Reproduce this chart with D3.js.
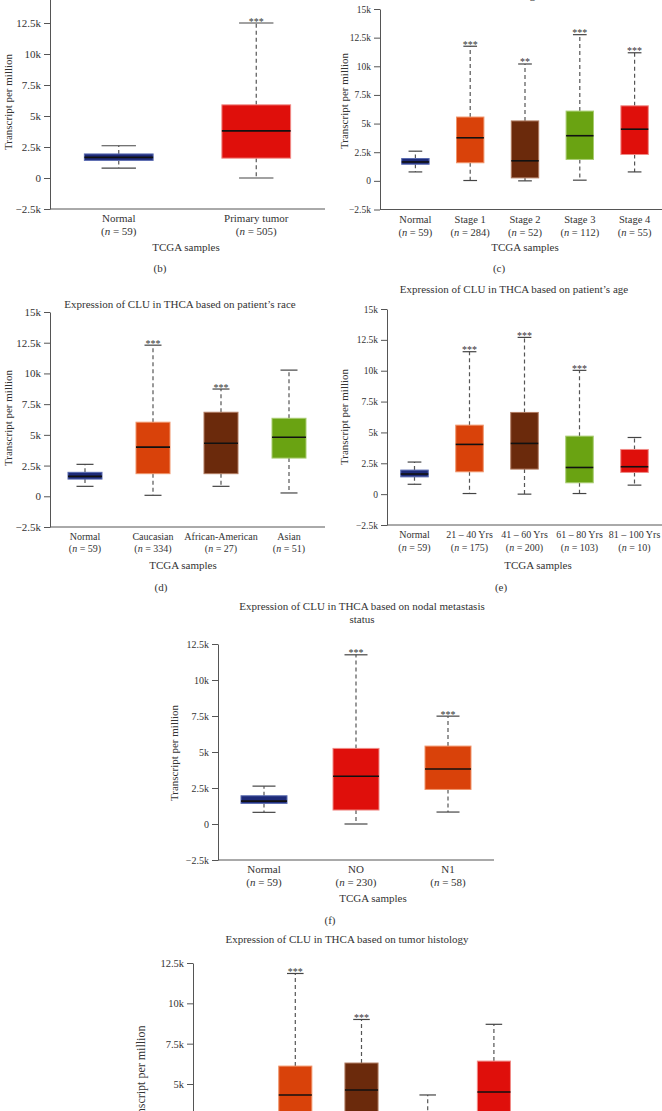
<!DOCTYPE html>
<html><head><meta charset="utf-8">
<script src="https://cdn.jsdelivr.net/npm/d3@7"></script>
<style>
body{margin:0;background:#fff}
svg{display:block}
text{font-family:"Liberation Serif","Times New Roman",serif;fill:#333}
</style>
</head><body>
<svg id="fig" width="662" height="1111"></svg>
<script>
// ---------- DATA ----------
const tickValues15 = [-2500, 0, 2500, 5000, 7500, 10000, 12500, 15000];
const tickValues125 = [-2500, 0, 2500, 5000, 7500, 10000, 12500];

// (b) sample types   stats = [low whisker, Q1, median, Q3, high whisker]
const sampleCats = ["Normal", "Primary tumor"];
const sampleN = [59, 505];
const sampleStats = [[800, 1420, 1660, 1940, 2600], [0, 1600, 3800, 5900, 12500]];
const sampleSig = ["", "***"];

// (c) cancer stages
const stageCats = ["Normal", "Stage 1", "Stage 2", "Stage 3", "Stage 4"];
const stageN = [59, 284, 52, 112, 55];
const stageStats = [[780, 1450, 1650, 1950, 2590], [30, 1580, 3760, 5570, 11750], [0, 260, 1750, 5230, 10200], [60, 1870, 3940, 6090, 12760], [780, 2300, 4510, 6550, 11180]];
const stageSig = ["", "***", "**", "***", "***"];

// (d) race
const raceCats = ["Normal", "Caucasian", "African-American", "Asian"];
const raceN = [59, 334, 27, 51];
const raceStats = [[810, 1400, 1620, 1950, 2600], [80, 1840, 4000, 6030, 12300], [810, 1840, 4320, 6840, 8730], [270, 3110, 4810, 6350, 10270]];
const raceSig = ["", "***", "***", ""];

// (e) age
const ageCats = ["Normal", "21 – 40 Yrs", "41 – 60 Yrs", "61 – 80 Yrs", "81 – 100 Yrs"];
const ageN = [59, 175, 200, 103, 10];
const ageStats = [[800, 1400, 1630, 1950, 2600], [50, 1810, 4030, 5590, 11540], [0, 2030, 4110, 6620, 12700], [50, 920, 2160, 4700, 10030], [730, 1760, 2220, 3620, 4590]];
const ageSig = ["", "***", "***", "***", ""];

// (f) nodal metastasis
const nodalCats = ["Normal", "NO", "N1"];
const nodalN = [59, 230, 58];
const nodalStats = [[810, 1430, 1590, 1960, 2630], [0, 970, 3320, 5250, 11750], [830, 2400, 3820, 5410, 7490]];
const nodalSig = ["", "***", "***"];

// (g) tumor histology
const histCats = ["Normal", "Classical", "Tall", "Other", "Follicular"];
const histN = [59, 358, 36, 9, 102];
const histStats = [[800, 1400, 1650, 1950, 2600], [100, 1900, 4320, 6110, 11850], [600, 2400, 4630, 6300, 9000], [300, 900, 1700, 2500, 4320], [500, 2300, 4500, 6420, 8700]];
const histSig = ["", "***", "***", "", ""];

// ---------- STYLE ----------
const C = {navy: "#1d2a78", red: "#df0f0b", orange: "#d9420a", brown: "#6b2a0c", green: "#6aa312"};
const strokeOf = {navy: "#5a6bb0", red: "#f08a86", orange: "#f0946a", brown: "#b07a60", green: "#a8cc70"};

const svg = d3.select("#fig");
const fmt = v => v === 0 ? "0" : (v < 0 ? "\u22122.5k" : (v / 1000) + "k");

function drawPanel(p) {
  const g = svg.append("g");
  const x = d3.scaleBand().domain(p.cats).range(p.xr);
  const y = d3.scaleLinear().domain(p.yd).range(p.yr);
  const bw = x.bandwidth();

  // y axis
  const ax = g.append("g").attr("transform", `translate(${p.ax},0)`)
    .call(d3.axisLeft(y).tickValues(p.ticks).tickFormat(fmt).tickSize(6).tickSizeOuter(0).tickPadding(3));
  ax.select(".domain").attr("stroke", "#555");
  ax.selectAll(".tick line").attr("stroke", "#555");
  ax.selectAll(".tick text").style("font-family", '"Liberation Serif",serif').style("font-size", p.tickFs + "px").attr("fill", "#333");

  // x axis line
  g.append("line").attr("x1", p.ax).attr("x2", p.xEnd)
    .attr("y1", y(p.yd[0])).attr("y2", y(p.yd[0])).attr("stroke", "#555");

  // boxes
  p.cats.forEach((c, i) => {
    const s = p.stats[i];
    const cx = x(c) + bw / 2;
    const hw = bw * 0.25, cw = bw * 0.125;
    const col = p.colors[i];
    const wg = g.append("g");
    wg.append("line").attr("x1", cx).attr("x2", cx).attr("y1", y(s[3])).attr("y2", y(s[4]))
      .attr("stroke", "#555").attr("stroke-width", 1.2).attr("stroke-dasharray", "4,3");
    wg.append("line").attr("x1", cx).attr("x2", cx).attr("y1", y(s[1])).attr("y2", y(s[0]))
      .attr("stroke", "#555").attr("stroke-width", 1.2).attr("stroke-dasharray", "4,3");
    [s[0], s[4]].forEach(v => wg.append("line").attr("x1", cx - cw).attr("x2", cx + cw)
      .attr("y1", y(v)).attr("y2", y(v)).attr("stroke", "#444").attr("stroke-width", 1.2));
    wg.append("rect").attr("x", cx - hw).attr("width", hw * 2)
      .attr("y", y(s[3])).attr("height", y(s[1]) - y(s[3]))
      .attr("fill", C[col]).attr("stroke", strokeOf[col]).attr("stroke-width", 1);
    wg.append("line").attr("x1", cx - hw).attr("x2", cx + hw).attr("y1", y(s[2])).attr("y2", y(s[2]))
      .attr("stroke", "#111").attr("stroke-width", 1.6);
    if (p.sig[i]) {
      wg.append("text").attr("x", cx).attr("y", y(s[4]) + 1.5).attr("text-anchor", "middle")
        .style("font-size", "10px").attr("fill", "#8a8a8a").text(p.sig[i]);
    }
    const ay = y(p.yd[0]);
    g.append("text").attr("x", cx).attr("y", ay + p.l1).attr("text-anchor", "middle")
      .style("font-size", p.catFs + "px").text(c);
    const t2 = g.append("text").attr("x", cx).attr("y", ay + p.l2).attr("text-anchor", "middle")
      .style("font-size", p.catFs + "px");
    t2.append("tspan").text("(");
    t2.append("tspan").style("font-style", "italic").text("n");
    t2.append("tspan").text(" = " + p.n[i] + ")");
  });

  g.append("text").attr("transform", `translate(${p.ylab[0]},${p.ylab[1]}) rotate(-90)`)
    .attr("text-anchor", "middle").attr("dy", "0.35em").style("font-size", p.labFs + "px")
    .text("Transcript per million");
  if (p.xlab) g.append("text").attr("x", p.xlab[0]).attr("y", p.xlab[1]).attr("text-anchor", "middle")
    .style("font-size", p.labFs + "px").text("TCGA samples");
  if (p.letter) g.append("text").attr("x", p.letter[1]).attr("y", p.letter[2]).attr("text-anchor", "middle")
    .style("font-size", p.labFs + "px").text("(" + p.letter[0] + ")");
  if (p.title) p.title.lines.forEach((ln, k) => {
    g.append("text").attr("x", p.title.x).attr("y", p.title.y + k * 13).attr("text-anchor", "middle")
      .style("font-size", p.title.fs + "px").text(ln);
  });
}

// (b)
drawPanel({cats: sampleCats, n: sampleN, stats: sampleStats, sig: sampleSig, colors: ["navy", "red"],
  ticks: tickValues125, yd: [-2500, 15000], yr: [209, -8], ax: 50, xr: [50, 325], xEnd: 325,
  tickFs: 11, catFs: 11, labFs: 11, l1: 13, l2: 26, ylab: [8, 102], xlab: [186, 251], letter: ["b", 160, 272]});

// (c)
drawPanel({cats: stageCats, n: stageN, stats: stageStats, sig: stageSig, colors: ["navy", "orange", "brown", "green", "red"],
  ticks: tickValues15, yd: [-2500, 15000], yr: [209.5, 9], ax: 380, xr: [388, 662], xEnd: 662,
  tickFs: 9.5, catFs: 10.5, labFs: 11, l1: 13, l2: 26, ylab: [344, 101], xlab: [525, 251], letter: ["c", 499, 272],
  title: {lines: ["stages"], x: 531, y: -1, fs: 11}});

// (d)
drawPanel({cats: raceCats, n: raceN, stats: raceStats, sig: raceSig, colors: ["navy", "orange", "brown", "green"],
  ticks: tickValues15, yd: [-2500, 15000], yr: [527, 312], ax: 50, xr: [51, 323], xEnd: 325,
  tickFs: 11, catFs: 10, labFs: 11, l1: 13, l2: 25, ylab: [8, 418], xlab: [183, 569], letter: ["d", 161, 591],
  title: {lines: ["Expression of CLU in THCA based on patient\u2019s race"], x: 180, y: 308, fs: 11}});

// (e)
drawPanel({cats: ageCats, n: ageN, stats: ageStats, sig: ageSig, colors: ["navy", "orange", "brown", "green", "red"],
  ticks: tickValues15, yd: [-2500, 15000], yr: [525, 309], ax: 387, xr: [387, 662], xEnd: 662,
  tickFs: 9.5, catFs: 10, labFs: 11, l1: 13, l2: 26, ylab: [344, 417], xlab: [538, 569], letter: ["e", 501, 591],
  title: {lines: ["Expression of CLU in THCA based on patient\u2019s age"], x: 514, y: 293, fs: 11}});

// (f)
drawPanel({cats: nodalCats, n: nodalN, stats: nodalStats, sig: nodalSig, colors: ["navy", "red", "orange"],
  ticks: tickValues125, yd: [-2500, 12500], yr: [860, 644], ax: 218, xr: [218, 494], xEnd: 494,
  tickFs: 10, catFs: 11, labFs: 11, l1: 13, l2: 26, ylab: [174, 753], xlab: [373, 902], letter: ["f", 330, 924],
  title: {lines: ["Expression of CLU in THCA based on nodal metastasis", "status"], x: 362, y: 610, fs: 11}});

// (g)
drawPanel({cats: histCats, n: histN, stats: histStats, sig: histSig, colors: ["navy", "orange", "brown", "green", "red"],
  ticks: tickValues125, yd: [-2500, 12500], yr: [1205, 963], ax: 193, xr: [196, 527], xEnd: 560,
  tickFs: 10.5, catFs: 11, labFs: 12, l1: 13, l2: 26, ylab: [141, 1078],
  title: {lines: ["Expression of CLU in THCA based on tumor histology"], x: 347, y: 943, fs: 11}});
</script>
</body></html>
